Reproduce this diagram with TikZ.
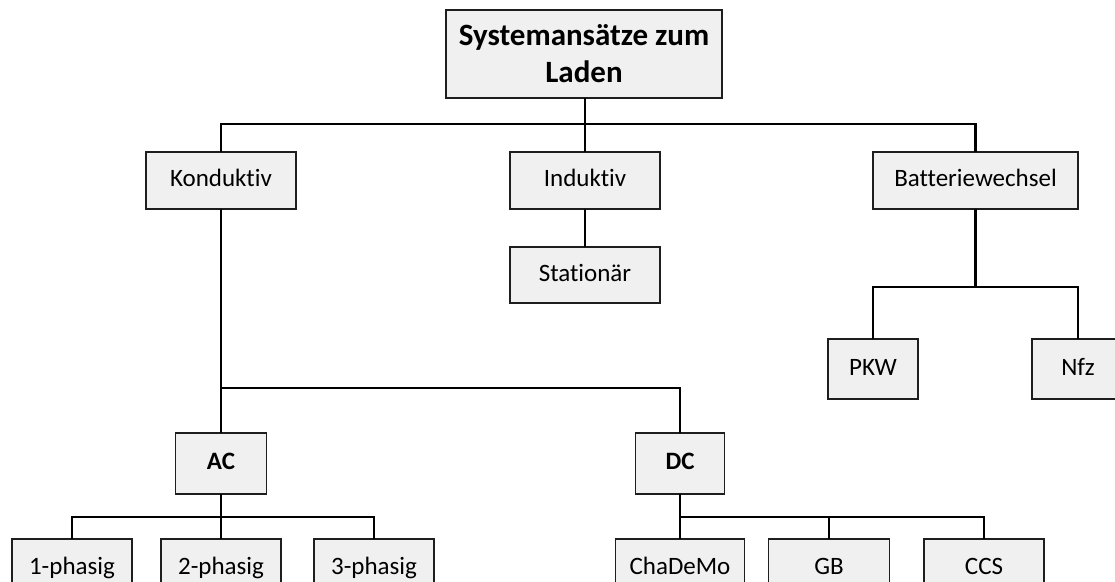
\documentclass[tikz,border=0pt]{standalone}
\usepackage{fontspec}
\setmainfont{Carlito}[Ligatures=NoCommon]
\definecolor{boxfill}{HTML}{F0F0F0}
\definecolor{boxline}{HTML}{1E1E1E}
\tikzset{
  basebox/.style={draw=boxline, fill=boxfill, line width=1.6pt, inner sep=0pt, outer sep=0pt, align=center},
  box/.style={basebox, font=\fontsize{25}{30}\selectfont, text height=17pt, text depth=5pt},
  titlebox/.style={basebox, font=\fontsize{31}{37}\selectfont\bfseries},
  boldbox/.style={box, font=\fontsize{25}{30}\selectfont\bfseries},
  conn/.style={draw=black, line width=2.4pt}
}
\begin{document}
\begin{tikzpicture}[x=1pt,y=-1pt]
\useasboundingbox (0,0) rectangle (1115,581);
% top
\node[titlebox, minimum width=276pt, minimum height=88pt] (top) at (584,54) {Systemansätze zum\\Laden};
% level 2
\node[box, minimum width=150pt, minimum height=57pt] (kond) at (221,180.5) {Konduktiv};
\node[box, minimum width=150pt, minimum height=57pt] (ind) at (585,180.5) {Induktiv};
\node[box, minimum width=205pt, minimum height=57pt] (batt) at (975.5,180.5) {Batteriewechsel};
\node[box, minimum width=150pt, minimum height=56pt] (stat) at (585,275) {Stationär};
% battery children
\node[box, minimum width=90pt, minimum height=60pt] (pkw) at (873,369) {PKW};
\node[box, minimum width=92pt, minimum height=60pt] (nfz) at (1078,369) {Nfz};
% AC / DC
\node[boldbox, minimum width=91pt, minimum height=61pt] (ac) at (221,463.5) {AC};
\node[boldbox, minimum width=89pt, minimum height=61pt] (dc) at (680,463.5) {DC};
% leaves
\node[box, minimum width=120pt, minimum height=58pt] (p1) at (72,568) {1-phasig};
\node[box, minimum width=120pt, minimum height=58pt] (p2) at (221,568) {2-phasig};
\node[box, minimum width=120pt, minimum height=58pt] (p3) at (374,568) {3-phasig};
\node[box, minimum width=129pt, minimum height=58pt] (cha) at (680,568) {ChaDeMo};
\node[box, minimum width=121pt, minimum height=58pt] (gb) at (829,568) {GB};
\node[box, minimum width=120pt, minimum height=58pt] (ccs) at (984,568) {CCS};
% junctions
\coordinate (j1) at (585,124);
\coordinate (j2) at (975.5,287);
\coordinate (j3) at (221,388);
\coordinate (j4) at (221,517);
\coordinate (j5) at (680,517);
% connectors
\draw[conn] (top.south -| j1) -- (ind.north);
\draw[conn] (kond.north) |- (j1) -| (batt.north);
\draw[conn] (ind.south) -- (stat.north);
\draw[conn] (batt.south) -- (j2);
\draw[conn] (pkw.north) |- (j2) -| (nfz.north);
\draw[conn] (kond.south) -- (ac.north);
\draw[conn] (j3) -| (dc.north);
\draw[conn] (ac.south) -- (p2.north);
\draw[conn] (p1.north) |- (j4) -| (p3.north);
\draw[conn] (dc.south) -- (cha.north);
\draw[conn] (j5) -| (ccs.north);
\draw[conn] (gb.north) -- (gb.north |- j5);
\end{tikzpicture}
\end{document}
